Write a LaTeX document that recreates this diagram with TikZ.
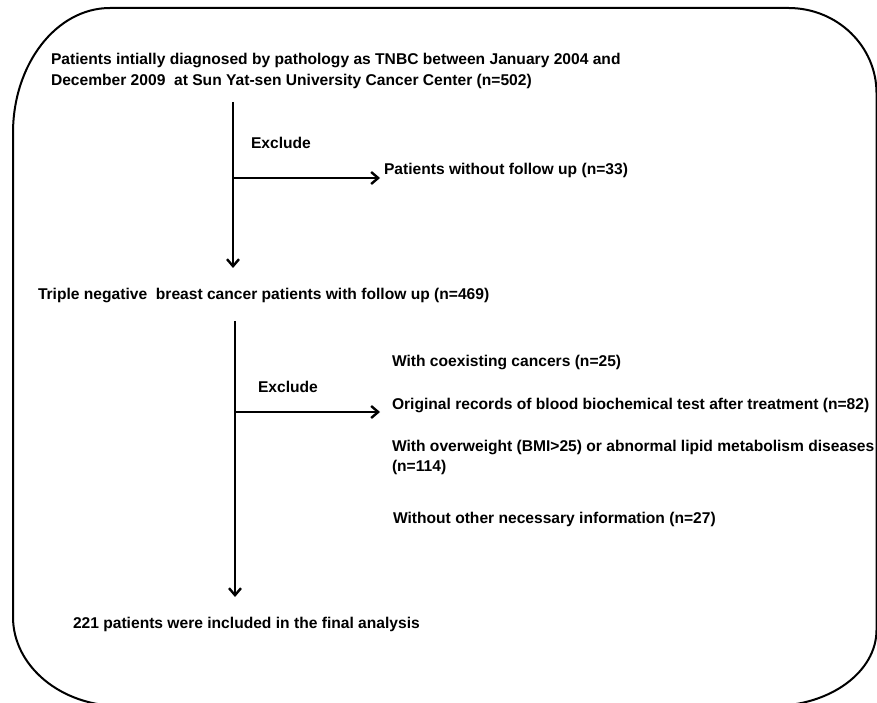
\documentclass[tikz,border=0pt]{standalone}
\usepackage{fontspec}
\setmainfont{Liberation Sans}
\usetikzlibrary{arrows.meta}
\begin{document}
\begin{tikzpicture}[x=1pt,y=1pt,
  txt/.style={anchor=base west,inner sep=0pt,outer sep=0pt,align=left,
    font=\fontsize{15.6}{21}\selectfont\bfseries},
  flow/.style={line width=1.8pt,-{Straight Barb[length=7pt,width=12pt,line width=2.4pt]}},
  frame/.style={line width=2pt}]
\useasboundingbox (0,0) rectangle (877,702);
% frame
\draw[frame] (110,694) -- (788.5,694)
  arc[start angle=90,end angle=0,x radius=88,y radius=85]
  -- (876.5,72)
  arc[start angle=0,end angle=-90,x radius=104,y radius=76]
  -- (120,-4)
  arc[start angle=270,end angle=180,x radius=107,y radius=89]
  -- (13,569)
  arc[start angle=180,end angle=90,x radius=97,y radius=125];
% texts
\node[txt] (start) at (51,616) {Patients intially diagnosed by pathology as TNBC between January 2004 and\\December 2009\ \ at Sun Yat-sen University Cancer Center (n=502)};
\node[txt] (ex1) at (251,553) {Exclude};
\node[txt] (nofu) at (384,527) {Patients without follow up (n=33)};
\node[txt] (tnbc) at (38,402) {Triple negative\ \ breast cancer patients with follow up (n=469)};
\node[txt] (ex2) at (258,310) {Exclude};
\node[txt] (coex) at (392,335) {With coexisting cancers (n=25)};
\node[txt] (orig) at (392,293) {Original records of blood biochemical test after treatment (n=82)};
\node[txt,font=\fontsize{15.6}{19.5}\selectfont\bfseries] (over) at (392,231) {With overweight (BMI>25) or abnormal lipid metabolism diseases\\(n=114)};
\node[txt] (other) at (393,179) {Without other necessary information (n=27)};
\node[txt] (final) at (73,74) {221 patients were included in the final analysis};
% connector points
\coordinate (v1s) at (233,600);
\coordinate (v1e) at (233,434);
\coordinate (h1s) at (233,524);
\coordinate (h1e) at (380,524);
\coordinate (v2s) at (235,381);
\coordinate (v2e) at (235,105);
\coordinate (h2s) at (235,290);
\coordinate (h2e) at (380,290);
\draw[flow] (v1s) -- (v1e);
\draw[flow] (h1s) -- (h1e);
\draw[flow] (v2s) -- (v2e);
\draw[flow] (h2s) -- (h2e);
\end{tikzpicture}
\end{document}
